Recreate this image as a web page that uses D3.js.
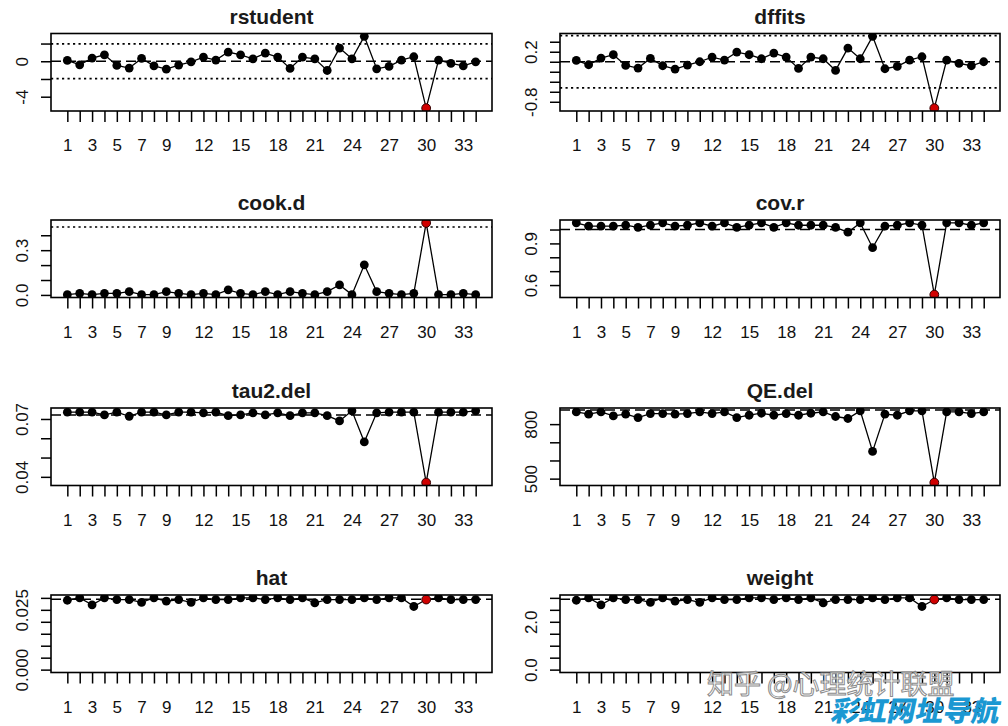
<!DOCTYPE html>
<html><head><meta charset="utf-8">
<script src="https://cdn.jsdelivr.net/npm/d3@7"></script>
<style>body{margin:0;background:#fff}svg{display:block}</style>
</head><body><svg id="c" width="1008" height="726"></svg>
<script>
// ---------- data ----------
const studies = [1,2,3,4,5,6,7,8,9,10,11,12,13,14,15,16,17,18,19,20,21,22,23,24,25,26,27,28,29,30,31,32,33,34];
const xTickLabels = [1,3,5,7,9,12,15,18,21,24,27,30,33];
const influential = [30];
const panelTitles = ["rstudent","dffits","cook.d","cov.r","tau2.del","QE.del","hat","weight"];

const rstudent = [0.09,-0.40,0.36,0.73,-0.47,-0.77,0.32,-0.51,-0.89,-0.43,-0.06,0.47,0.13,1.04,0.73,0.28,0.92,0.47,-0.81,0.47,0.28,-1.04,1.49,0.28,2.81,-0.85,-0.58,0.13,0.51,-5.29,0.13,-0.24,-0.51,-0.06];
const dffits = [0.027,-0.060,0.073,0.140,-0.073,-0.127,0.067,-0.080,-0.147,-0.067,0.000,0.093,0.033,0.193,0.140,0.060,0.173,0.093,-0.133,0.093,0.060,-0.173,0.273,0.060,0.507,-0.140,-0.093,0.033,0.100,-0.927,0.033,-0.033,-0.080,0.000];
const cookD = [0.002,0.011,0.002,0.011,0.011,0.022,0.002,0.002,0.022,0.011,0.002,0.011,0.002,0.034,0.011,0.002,0.022,0.002,0.022,0.011,0.002,0.022,0.067,0.002,0.202,0.022,0.011,0.002,0.011,0.483,0.002,0.002,0.011,0.002];
const covR = [1.048,1.024,1.024,1.024,1.031,1.016,1.031,1.048,1.024,1.031,1.048,1.024,1.048,1.016,1.031,1.048,1.016,1.048,1.031,1.031,1.031,1.016,0.981,1.048,0.869,1.024,1.031,1.048,1.031,0.531,1.048,1.048,1.031,1.048];
const tau2Del = [0.0735,0.0735,0.0735,0.0721,0.0735,0.0714,0.0735,0.0735,0.0721,0.0735,0.0735,0.0732,0.0735,0.0717,0.0721,0.0732,0.0721,0.0732,0.0717,0.0732,0.0732,0.0717,0.0690,0.0742,0.0581,0.0732,0.0735,0.0735,0.0735,0.0370,0.0735,0.0735,0.0735,0.0742];
const qeDel = [867,855,867,845,855,836,858,858,855,858,867,858,867,836,849,860,849,858,849,860,867,842,831,873,650,855,849,873,873,478,867,867,858,867];
const hat = [0.0290,0.0300,0.0271,0.0300,0.0293,0.0293,0.0281,0.0300,0.0286,0.0293,0.0281,0.0300,0.0293,0.0293,0.0300,0.0300,0.0293,0.0300,0.0293,0.0300,0.0279,0.0293,0.0293,0.0293,0.0300,0.0293,0.0300,0.0300,0.0264,0.0293,0.0300,0.0293,0.0293,0.0293];
const weight = [2.90,3.00,2.71,3.00,2.93,2.93,2.81,3.00,2.86,2.93,2.81,3.00,2.93,2.93,3.00,3.00,2.93,3.00,2.93,3.00,2.79,2.93,2.93,2.93,3.00,2.93,3.00,3.00,2.64,2.93,3.00,2.93,2.93,2.93];

// reference lines
const rstudentDashed = [0],  rstudentDotted = [-1.96, 1.96];
const dffitsDashed = [0],    dffitsDotted = [-0.522, 0.522];
const cookDDashed = [],      cookDDotted = [0.455];
const covRDashed = [1],      covRDotted = [];
const tau2DelDashed = [0.0721], tau2DelDotted = [];
const qeDelDashed = [878],   qeDelDotted = [];
const hatDashed = [0.0294],  hatDotted = [];
const weightDashed = [2.94], weightDotted = [];

// y ticks and their labels
const rstudentTicks = [-4,-2,0,2],                rstudentTickLabels = ["-4","","0",""];
const dffitsTicks = [-0.8,-0.6,-0.4,-0.2,0,0.2,0.4], dffitsTickLabels = ["-0.8","","","","","0.2",""];
const cookDTicks = [0,0.1,0.2,0.3,0.4],           cookDTickLabels = ["0.0","","","0.3",""];
const covRTicks = [0.6,0.7,0.8,0.9,1.0],          covRTickLabels = ["0.6","","","0.9",""];
const tau2DelTicks = [0.04,0.05,0.06,0.07],       tau2DelTickLabels = ["0.04","","","0.07"];
const qeDelTicks = [500,600,700,800],             qeDelTickLabels = ["500","","","800"];
const hatTicks = [0,0.005,0.01,0.015,0.02,0.025,0.03], hatTickLabels = ["0.000","","","","","0.025",""];
const weightTicks = [0,0.5,1,1.5,2,2.5,3],        weightTickLabels = ["0.0","","","","2.0","",""];

// ---------- layout ----------
const cols = [{l:51, r:492},{l:560, r:1000}];
const rowTops = [33.5, 220, 408, 595];
const boxH = 77.5;
const FONT = "'Liberation Sans', Arial, sans-serif";

const panels = [
  {vals:rstudent, dashed:rstudentDashed, dotted:rstudentDotted, ticks:rstudentTicks, labels:rstudentTickLabels, zero:false},
  {vals:dffits, dashed:dffitsDashed, dotted:dffitsDotted, ticks:dffitsTicks, labels:dffitsTickLabels, zero:false},
  {vals:cookD, dashed:cookDDashed, dotted:cookDDotted, ticks:cookDTicks, labels:cookDTickLabels, zero:false},
  {vals:covR, dashed:covRDashed, dotted:covRDotted, ticks:covRTicks, labels:covRTickLabels, zero:false},
  {vals:tau2Del, dashed:tau2DelDashed, dotted:tau2DelDotted, ticks:tau2DelTicks, labels:tau2DelTickLabels, zero:false},
  {vals:qeDel, dashed:qeDelDashed, dotted:qeDelDotted, ticks:qeDelTicks, labels:qeDelTickLabels, zero:false},
  {vals:hat, dashed:hatDashed, dotted:hatDotted, ticks:hatTicks, labels:hatTickLabels, zero:true},
  {vals:weight, dashed:weightDashed, dotted:weightDotted, ticks:weightTicks, labels:weightTickLabels, zero:true}
];

const svg = d3.select("#c");
svg.append("rect").attr("width",1008).attr("height",726).attr("fill","#fff");

const xLabelSet = new Set(xTickLabels);
const inflSet = new Set(influential);

panels.forEach((p, i) => {
  const col = cols[i % 2], top = rowTops[Math.floor(i / 2)], bottom = top + boxH;
  const n = studies.length;
  const xpad = 0.04 * (studies[n-1] - studies[0]);
  const x = d3.scaleLinear().domain([studies[0] - xpad, studies[n-1] + xpad]).range([col.l, col.r]);
  const ext = d3.extent(p.zero ? p.vals.concat([0]) : p.vals);
  const ypad = 0.04 * (ext[1] - ext[0]);
  const y = d3.scaleLinear().domain([ext[0] - ypad, ext[1] + ypad]).range([bottom, top]);

  const g = svg.append("g");
  const clipId = "clip" + i;
  g.append("clipPath").attr("id", clipId).append("rect")
    .attr("x", col.l).attr("y", top).attr("width", col.r - col.l).attr("height", boxH);
  const inner = g.append("g").attr("clip-path", `url(#${clipId})`);

  inner.selectAll("line.dotted").data(p.dotted).join("line")
    .attr("x1", col.l).attr("x2", col.r).attr("y1", d => y(d)).attr("y2", d => y(d))
    .attr("stroke", "#000").attr("stroke-width", 1.6).attr("stroke-dasharray", "2.2,3.3");
  inner.selectAll("line.dashed").data(p.dashed).join("line")
    .attr("x1", col.l).attr("x2", col.r).attr("y1", d => y(d)).attr("y2", d => y(d))
    .attr("stroke", "#000").attr("stroke-width", 1.5).attr("stroke-dasharray", "10,5");

  const pts = studies.map((s, k) => ({s, v: p.vals[k]}));
  inner.append("path").datum(pts)
    .attr("d", d3.line().x(d => x(d.s)).y(d => y(d.v)))
    .attr("fill", "none").attr("stroke", "#000").attr("stroke-width", 1.3);
  inner.selectAll("circle").data(pts).join("circle")
    .attr("cx", d => x(d.s)).attr("cy", d => y(d.v)).attr("r", 4.4)
    .attr("fill", d => inflSet.has(d.s) ? "#d00000" : "#000")
    .attr("stroke", d => inflSet.has(d.s) ? "#300" : "none")
    .attr("stroke-width", 1);

  g.append("rect").attr("x", col.l).attr("y", top).attr("width", col.r - col.l).attr("height", boxH)
    .attr("fill", "none").attr("stroke", "#000").attr("stroke-width", 1.6);

  // x axis
  const xa = g.append("g").attr("transform", `translate(0,${bottom})`)
    .call(d3.axisBottom(x).tickValues(studies).tickSize(11).tickPadding(17)
      .tickFormat(d => xLabelSet.has(d) ? String(d) : ""));
  xa.select(".domain").remove();
  xa.selectAll("line").attr("stroke", "#000").attr("stroke-width", 1.5);
  xa.selectAll("text").attr("font-size", 17).attr("font-family", FONT).attr("fill", "#111");

  // y axis
  const labelMap = new Map(p.ticks.map((t, k) => [t, p.labels[k]]));
  const ya = g.append("g").attr("transform", `translate(${col.l},0)`)
    .call(d3.axisLeft(y).tickValues(p.ticks).tickSize(10).tickFormat(d => labelMap.get(d)));
  ya.select(".domain").remove();
  ya.selectAll("line").attr("stroke", "#000").attr("stroke-width", 1.5);
  ya.selectAll("text")
    .attr("x", null).attr("dy", null)
    .attr("text-anchor", "middle")
    .attr("transform", "translate(-23,0) rotate(-90)")
    .attr("font-size", 17).attr("font-family", FONT).attr("fill", "#111");

  // title
  g.append("text").attr("x", (col.l + col.r) / 2).attr("y", top - 10)
    .attr("text-anchor", "middle").attr("font-family", FONT).attr("font-weight", "bold")
    .attr("font-size", 21).attr("fill", "#1a1a1a").text(panelTitles[i]);
});

// watermark overlay
svg.append("text").attr("x", 707).attr("y", 694)
  .attr("font-family", "'Noto Sans CJK SC', sans-serif").attr("font-size", 27)
  .attr("fill", "rgba(255,255,255,0.75)").attr("stroke", "#8c8c8c").attr("stroke-width", 1)
  .text("知乎 @心理统计联盟");
svg.append("text").attr("transform", "translate(830,721) skewX(-12)")
  .attr("font-family", "'Noto Sans CJK SC', sans-serif").attr("font-size", 28).attr("font-weight", 900)
  .attr("fill", "#1b98d2").text("彩虹网址导航");
</script></body></html>
